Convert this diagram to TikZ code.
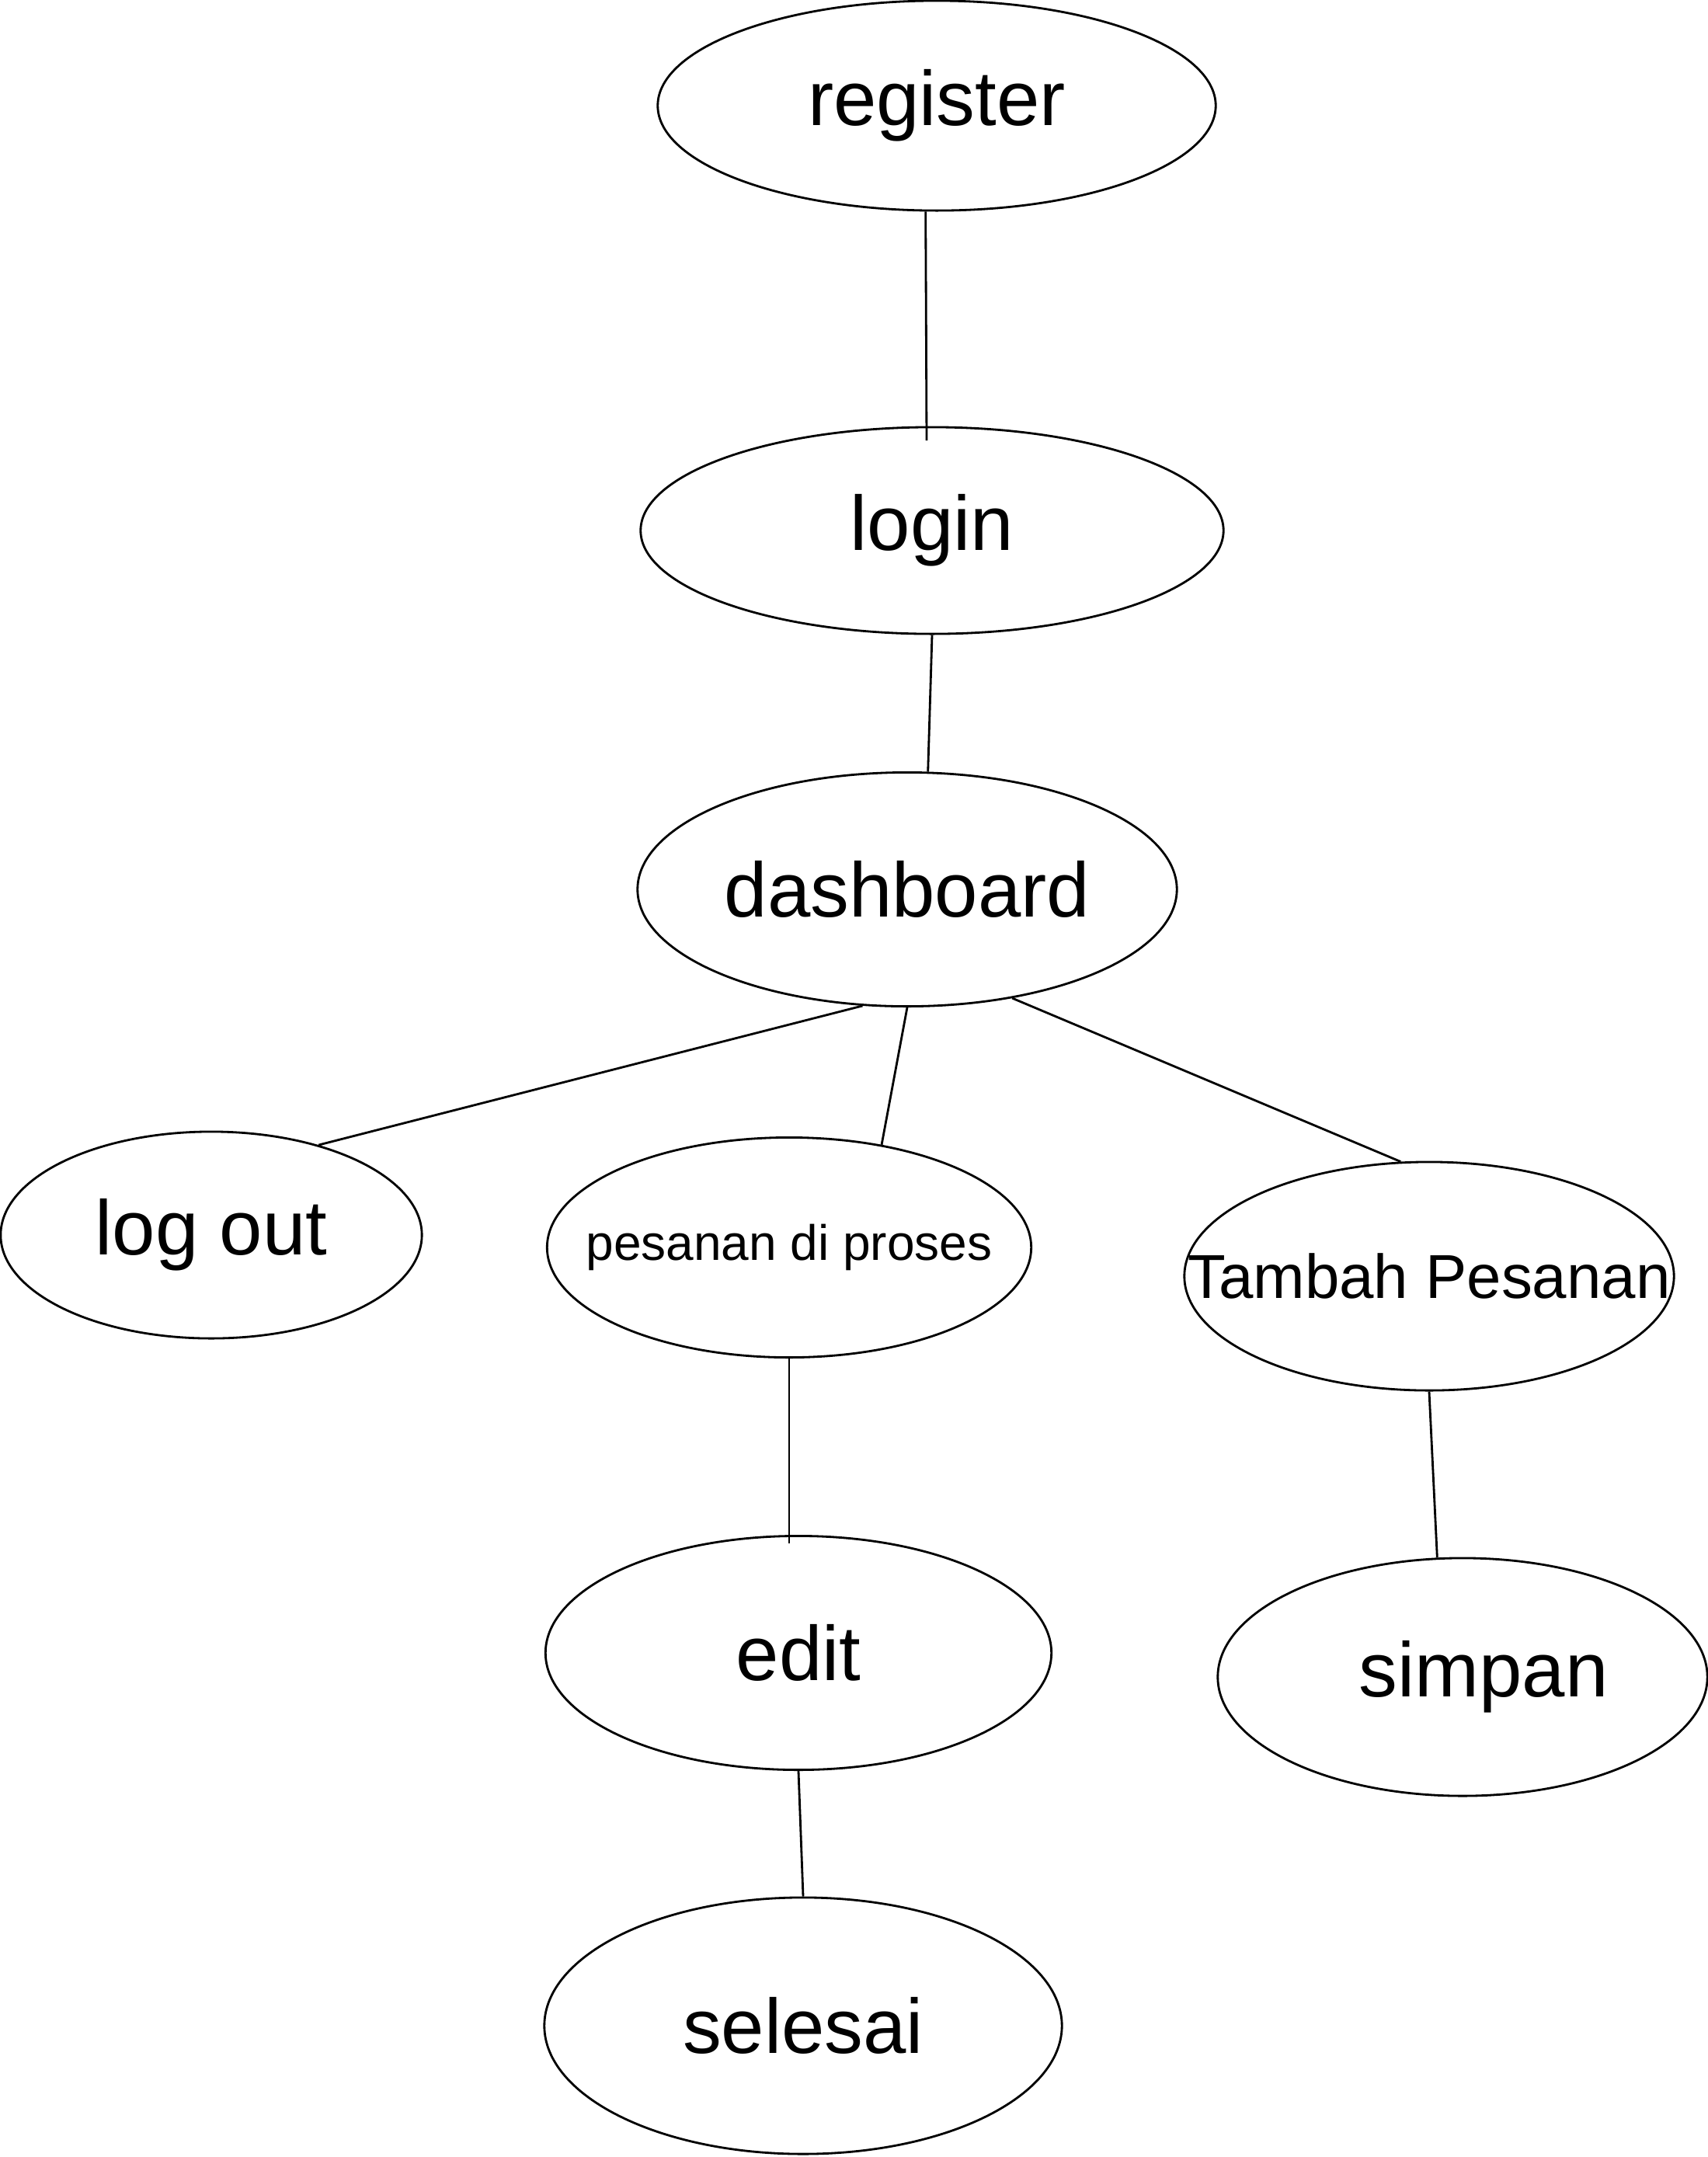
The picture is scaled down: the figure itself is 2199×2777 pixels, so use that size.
\documentclass[tikz,border=0pt]{standalone}
\usepackage{fontspec}
\setmainfont{Liberation Sans}
\usepackage{tikz}
\usetikzlibrary{shapes,positioning,calc}

\begin{document}
\begin{tikzpicture}[x=0.01cm, y=-0.01cm, line width=0.8pt,
    oval/.style={draw, ellipse, inner sep=0pt},
    big/.style={font=\fontsize{28.3}{30}\selectfont},
    mid/.style={font=\fontsize{22.7}{26}\selectfont},
    small/.style={font=\fontsize{18.2}{22}\selectfont}]
    \path [use as bounding box, fill=white] (0, 0) rectangle (2199, 2777);

    % ovals
    \node [oval, minimum width=7.18cm, minimum height=2.70cm, label={[big]center:register}] (register) at (1206, 136) {};
    \node [oval, minimum width=7.50cm, minimum height=2.66cm, label={[big]center:login}] (login) at (1200, 683) {};
    \node [oval, minimum width=6.94cm, minimum height=3.01cm, label={[big]center:dashboard}] (dashboard) at (1168, 1145) {};
    \node [oval, minimum width=5.42cm, minimum height=2.66cm, label={[big]center:log out}] (logout) at (272, 1590) {};
    \node [oval, minimum width=6.23cm, minimum height=2.83cm, label={[small]center:pesanan di proses}] (pesanan) at (1016, 1606) {};
    \node [oval, minimum width=6.30cm, minimum height=2.94cm, label={[mid]center:Tambah Pesanan}] (tambah) at (1840, 1643) {};
    \node [oval, minimum width=6.51cm, minimum height=3.01cm, label={[big]center:edit}] (edit) at (1028, 2128) {};
    \node [oval, minimum width=6.30cm, minimum height=3.06cm, label={[big, xshift=0.27cm]center:simpan}] (simpan) at (1883, 2159) {};
    \node [oval, minimum width=6.66cm, minimum height=3.30cm, label={[big]center:selesai}] (selesai) at (1034, 2608) {};

    \coordinate (loginin) at (1193, 567);
    \coordinate (editin) at (1016, 1987);

    % lines
    \draw (register.264) -- (loginin);
    \draw (login.south) -- (dashboard.80);
    \draw (dashboard.249) -- (logout.40);
    \draw (dashboard.south) -- (pesanan.48);
    \draw (dashboard.314) -- (tambah.104);
    \draw (pesanan.south) -- (editin);
    \draw (tambah.south) -- (simpan.102);
    \draw (edit.south) -- (selesai.north);
\end{tikzpicture}
\end{document}
